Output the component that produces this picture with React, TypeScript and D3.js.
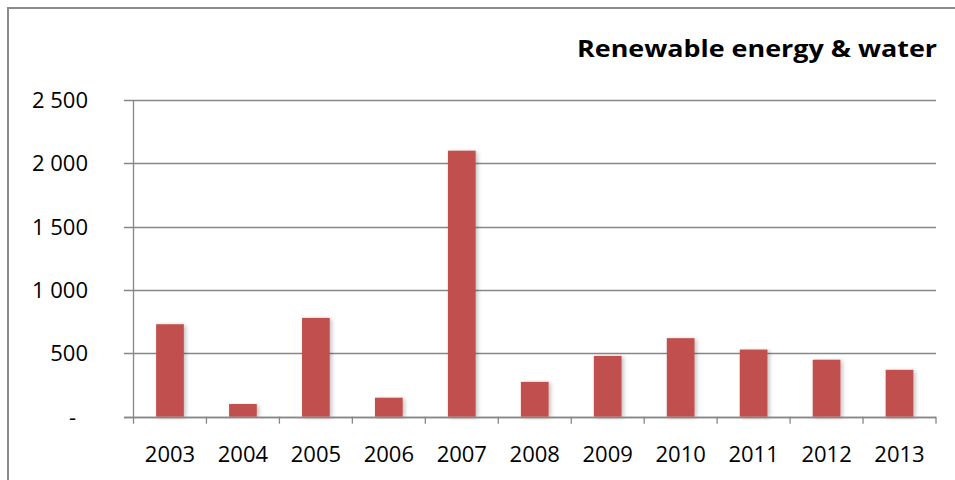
import React from "react";
import * as d3 from "d3";

const years = ["2003", "2004", "2005", "2006", "2007", "2008", "2009", "2010", "2011", "2012", "2013"];
const values = [730, 100, 780, 150, 2100, 275, 480, 620, 530, 450, 370];
const yTicks = [0, 500, 1000, 1500, 2000, 2500];
const title = "Renewable energy & water";

const W = 955;
const H = 480;
const left = 133.5;
const right = 936;
const top = 100;
const bottom = 416.7;
const font = "'Open Sans', Lato, sans-serif";

function fmt(v: number) {
  if (v === 0) return "-";
  return d3.format(",")(v).replace(/,/g, " ");
}

export default function App() {
  const x = d3.scaleBand<string>().domain(years).range([left, right]).paddingInner(0.62).paddingOuter(0.31);
  const band = d3.scaleBand<string>().domain(years).range([left, right]).padding(0);
  const y = d3.scaleLinear().domain([0, 2500]).range([bottom, top]);
  const grid = "#878787";

  return (
    <svg width={W} height={H} style={{ position: "absolute", left: 0, top: 0, background: "#fff" }}>
      <defs>
        <filter id="sh" x="-30%" y="-10%" width="170%" height="120%">
          <feGaussianBlur in="SourceAlpha" stdDeviation="2" />
          <feOffset dx="2" dy="1" result="b" />
          <feComponentTransfer>
            <feFuncA type="linear" slope="0.25" />
          </feComponentTransfer>
          <feMerge>
            <feMergeNode />
            <feMergeNode in="SourceGraphic" />
          </feMerge>
        </filter>
      </defs>
      <rect x={0} y={0} width={W} height={H} fill="#fff" />
      <rect x={8} y={8} width={1000} height={600} fill="none" stroke="#8a8a8a" strokeWidth={2} />
      <text
        x={937}
        y={57}
        textAnchor="end"
        fontFamily={font}
        fontWeight="bold"
        fontSize={24}
        textLength={360}
        lengthAdjust="spacingAndGlyphs"
        fill="#000"
      >
        {title}
      </text>
      {yTicks.map((t) => (
        <g key={t}>
          <line x1={124} x2={right} y1={Math.round(y(t)) + 0.5} y2={Math.round(y(t)) + 0.5} stroke={grid} strokeWidth={1.3} />
          <text
            x={t === 0 ? 76 : 88}
            y={y(t)}
            dy="0.36em"
            textAnchor="end"
            fontFamily={font}
            fontSize={22}
            fill="#000"
          >
            {fmt(t)}
          </text>
        </g>
      ))}
      <line x1={left} x2={left} y1={top} y2={bottom + 7} stroke={grid} strokeWidth={1.3} />
      {years.map((yr) => (
        <line
          key={"t" + yr}
          x1={(band(yr) as number) + band.bandwidth()}
          x2={(band(yr) as number) + band.bandwidth()}
          y1={bottom}
          y2={bottom + 7}
          stroke={grid}
          strokeWidth={1.3}
        />
      ))}
      {years.map((yr, i) => (
        <rect
          key={"b" + yr}
          x={x(yr)}
          y={y(values[i])}
          width={x.bandwidth()}
          height={bottom - y(values[i])}
          fill="#C0504D"
          filter="url(#sh)"
        />
      ))}
      <line x1={124} x2={right} y1={Math.round(bottom) + 0.5} y2={Math.round(bottom) + 0.5} stroke={grid} strokeWidth={1.3} />
      {years.map((yr) => (
        <text
          key={"l" + yr}
          x={(band(yr) as number) + band.bandwidth() / 2}
          y={462}
          textAnchor="middle"
          fontFamily={font}
          fontSize={22}
          fill="#000"
        >
          {yr}
        </text>
      ))}
    </svg>
  );
}
